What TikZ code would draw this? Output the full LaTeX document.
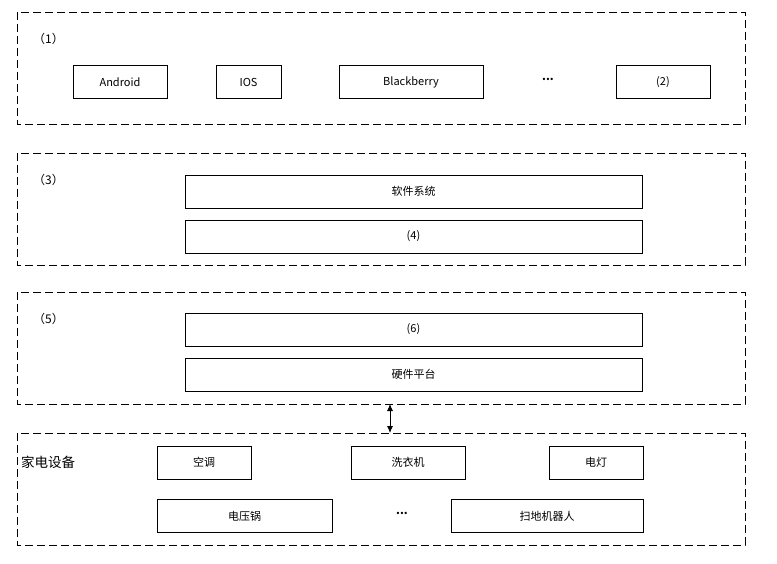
\documentclass[tikz,border=0pt]{standalone}
\usepackage{fontspec}
\setmainfont{Noto Sans CJK SC}
\usetikzlibrary{arrows.meta}
\begin{document}
\begin{tikzpicture}[x=1pt,y=-1pt,
  group/.style={draw,line width=0.8pt,dash pattern=on 8pt off 4pt},
  box/.style={draw,line width=0.8pt,minimum height=33pt,inner sep=0pt,font=\fontsize{11}{13}\selectfont},
  lbl/.style={inner sep=0pt,font=\fontsize{11}{13}\selectfont},
  plbl/.style={inner sep=0pt,font=\fontsize{12}{14}\selectfont},
]
\useasboundingbox (0,0) rectangle (777,564);
\fill[white] (0,0) rectangle (777,564);
% groups
\draw[group] (17,12) rectangle (745,124);
\draw[group] (17,153) rectangle (745,265);
\draw[group] (17,292) rectangle (745,404);
\draw[group] (17,433) rectangle (745,545);
\coordinate (g3b) at (390,404);
\coordinate (g4t) at (390,433);
% group 1
\node[plbl] (l1) at (48.5,39) {（1）};
\node[box,minimum width=94pt] (android) at (120,82) {Android};
\node[box,minimum width=65pt] (ios) at (248.5,82) {IOS};
\node[box,minimum width=144pt] (bb) at (411,82) {Blackberry};
\node[lbl] (dots1) at (548,79) {\textbf{...}};
\node[box,minimum width=94pt] (n2) at (663,82) {(2)};
% group 2
\node[plbl] (l3) at (48.5,180) {（3）};
\node[box,minimum width=457pt] (soft) at (413.5,191.5) {软件系统};
\node[box,minimum width=457pt] (n4) at (413.5,236.5) {(4)};
% group 3
\node[plbl] (l5) at (48.5,319) {（5）};
\node[box,minimum width=457pt] (n6) at (413.5,329.5) {(6)};
\node[box,minimum width=457pt] (hw) at (413.5,374.5) {硬件平台};
% arrow
\draw[line width=0.8pt,{Latex[length=7pt,width=6pt]}-{Latex[length=7pt,width=6pt]}] (g3b) -- (g4t);
% group 4
\node[inner sep=0pt,font=\fontsize{13.5}{15}\selectfont,anchor=west] (l7) at (21,462) {家电设备};
\node[box,minimum width=94pt] (ac) at (204,462.5) {空调};
\node[box,minimum width=114pt] (wash) at (408,462.5) {洗衣机};
\node[box,minimum width=94pt] (lamp) at (596,462.5) {电灯};
\node[box,minimum width=175pt] (cooker) at (244.5,516) {电压锅};
\node[lbl] (dots2) at (402,513) {\textbf{...}};
\node[box,minimum width=192pt] (robot) at (547,516) {扫地机器人};
\end{tikzpicture}
\end{document}
